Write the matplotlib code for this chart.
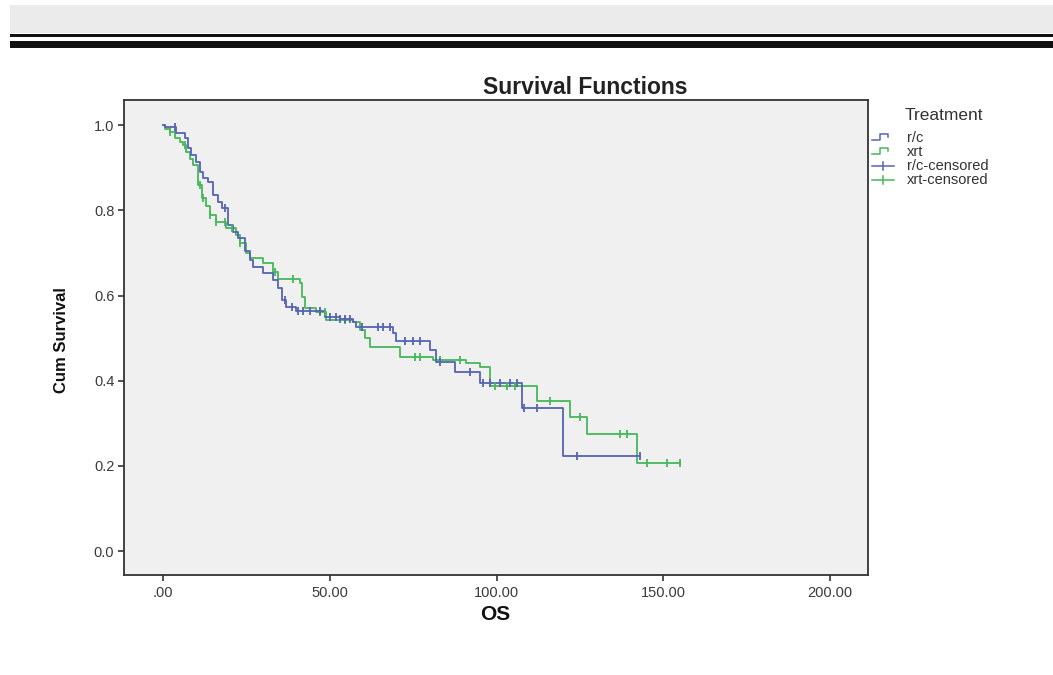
import numpy as np
import matplotlib
matplotlib.use("Agg")
import matplotlib.pyplot as plt
from matplotlib.patches import Rectangle
from matplotlib.lines import Line2D

# ---------------- data ----------------
group_names = ["r/c", "xrt"]

# r/c : event times and survival after each step
times_rc = [0.5, 4, 6.5, 7.5, 8.5, 10, 11, 12, 13.5, 15, 16.5, 17.7, 19.5, 21, 22.5,
            24.5, 26, 27, 30, 33, 34.5, 35.7, 37, 40, 48.6, 53, 57, 58, 69, 70, 80,
            82, 87.6, 95, 107.5, 120]
surv_rc = [0.995, 0.981, 0.969, 0.946, 0.93, 0.913, 0.889, 0.875, 0.866, 0.835, 0.82,
           0.805, 0.765, 0.75, 0.735, 0.705, 0.683, 0.667, 0.652, 0.636, 0.617, 0.589,
           0.573, 0.563, 0.55, 0.545, 0.538, 0.526, 0.511, 0.493, 0.472, 0.444, 0.42,
           0.395, 0.335, 0.223]
cens_rc = [3.6, 18.6, 36.6, 38.7, 40.5, 42, 44, 47, 50, 52, 53, 54.6, 56, 59.7, 64.5,
           66, 68, 72.6, 75, 77, 83, 92, 96, 98, 101, 104, 106, 108.3, 112, 124, 143]

# xrt
times_xrt = [0.5, 2, 3.5, 5, 6, 7, 8, 9, 10.5, 11.7, 13, 14, 16, 19, 22, 23, 25, 26,
             30, 33, 34.5, 41, 41.6, 42.6, 46, 49, 57, 59, 60.5, 62, 71, 81, 91, 95,
             98, 112, 122, 127, 142]
surv_xrt = [0.99, 0.984, 0.97, 0.96, 0.953, 0.937, 0.92, 0.906, 0.859, 0.828, 0.81,
            0.789, 0.772, 0.758, 0.742, 0.723, 0.70, 0.688, 0.676, 0.655, 0.638, 0.629,
            0.596, 0.57, 0.561, 0.542, 0.538, 0.519, 0.50, 0.479, 0.456, 0.448, 0.441,
            0.432, 0.388, 0.352, 0.315, 0.276, 0.206]
cens_xrt = [2, 6.6, 11, 12, 14, 16, 18.6, 20.7, 23, 33.6, 39, 47, 48.6, 54.6, 75.5, 77,
            83, 89, 99.5, 103, 105.5, 116, 125, 137, 139, 145, 151, 155]

x_ticks = [0, 50, 100, 150, 200]
x_tick_labels = [".00", "50.00", "100.00", "150.00", "200.00"]
y_ticks = [0.0, 0.2, 0.4, 0.6, 0.8, 1.0]
y_tick_labels = ["0.0", "0.2", "0.4", "0.6", "0.8", "1.0"]

# ---------------- styling ----------------
col_rc = "#5563b3"
col_xrt = "#45b85a"
W, H = 1053, 675
SANS = ["Liberation Sans", "DejaVu Sans"]
fig = plt.figure(figsize=(W / 100, H / 100), dpi=100)
fig.patch.set_facecolor("white")

def fy(py):
    return 1 - py / H

# header band and rules
fig.patches.append(Rectangle((10 / W, fy(33)), 1, 28 / H, transform=fig.transFigure,
                             facecolor="#ebebeb", edgecolor="none", zorder=0))
fig.patches.append(Rectangle((10 / W, fy(37)), 1, 3 / H, transform=fig.transFigure,
                             facecolor="#111111", edgecolor="none", zorder=0))
fig.patches.append(Rectangle((10 / W, fy(48)), 1, 7 / H, transform=fig.transFigure,
                             facecolor="#111111", edgecolor="none", zorder=0))

ax = fig.add_axes([124 / W, fy(575), (868 - 124) / W, (575 - 100) / H])
ax.set_facecolor("#f0f0f0")
for s in ax.spines.values():
    s.set_color("#333333")
    s.set_linewidth(1.3)

def draw_group(times, surv, cens, color):
    xs = [0] + list(times) + [max(cens[-1], times[-1])]
    ys = [1.0] + list(surv) + [surv[-1]]
    ax.step(xs, ys, where="post", color=color, lw=1.3, zorder=3)
    t_arr = np.array(times)
    s_full = np.array([1.0] + list(surv))
    idx = np.searchsorted(t_arr, np.array(cens), side="right")
    ax.plot(cens, s_full[idx], linestyle="none", marker="|", markersize=6,
            markeredgewidth=1.3, color=color, zorder=4)

draw_group(times_xrt, surv_xrt, cens_xrt, col_xrt)
draw_group(times_rc, surv_rc, cens_rc, col_rc)

ax.set_xlim(-11.7, 211.4)
ax.set_ylim(-0.056, 1.059)
ax.set_xticks(x_ticks)
ax.set_xticklabels(x_tick_labels, family=SANS)
ax.set_yticks(y_ticks)
ax.set_yticklabels(y_tick_labels, family=SANS)
ax.tick_params(axis="both", direction="out", length=4, width=1.2, color="#333333",
               labelsize=10.5, labelcolor="#3a3a3a")
ax.tick_params(axis="x", pad=4)
ax.tick_params(axis="y", pad=3)

fig.text(585 / W, fy(87), "Survival Functions", ha="center", va="center",
         fontsize=16.5, fontweight="bold", family=SANS, color="#222222")
fig.text(62 / W, fy(340), "Cum Survival", ha="center", va="center", rotation=90,
         fontsize=12, fontweight="bold", family=SANS, color="#111111")
fig.text(495 / W, fy(614), "OS", ha="center", va="center", fontsize=15,
         fontweight="bold", family=SANS, color="#111111")

# legend
fig.text(944 / W, fy(115), "Treatment", ha="center", va="center", fontsize=12.5,
         family=SANS, color="#333333")
entries = [("r/c", col_rc, "step"), ("xrt", col_xrt, "step"),
           ("r/c-censored", col_rc, "cens"), ("xrt-censored", col_xrt, "cens")]
ys_leg = [138, 152, 166, 180]
for (lab, c, kind), py in zip(entries, ys_leg):
    if kind == "step":
        xs = [872, 880, 880, 888, 888]
        yy = [py + 1.5, py + 1.5, py - 4, py - 4, py - 1]
        fig.add_artist(Line2D([x / W for x in xs], [fy(v) for v in yy],
                              transform=fig.transFigure, color=c, lw=1.1))
    else:
        fig.add_artist(Line2D([872 / W, 894 / W], [fy(py), fy(py)],
                              transform=fig.transFigure, color=c, lw=1.1))
        fig.add_artist(Line2D([883 / W, 883 / W], [fy(py - 4), fy(py + 4)],
                              transform=fig.transFigure, color=c, lw=1.1))
    fig.text(907 / W, fy(py), lab, ha="left", va="center", fontsize=10.5,
             family=SANS, color="#333333")

fig.savefig("out.png", dpi=100)
